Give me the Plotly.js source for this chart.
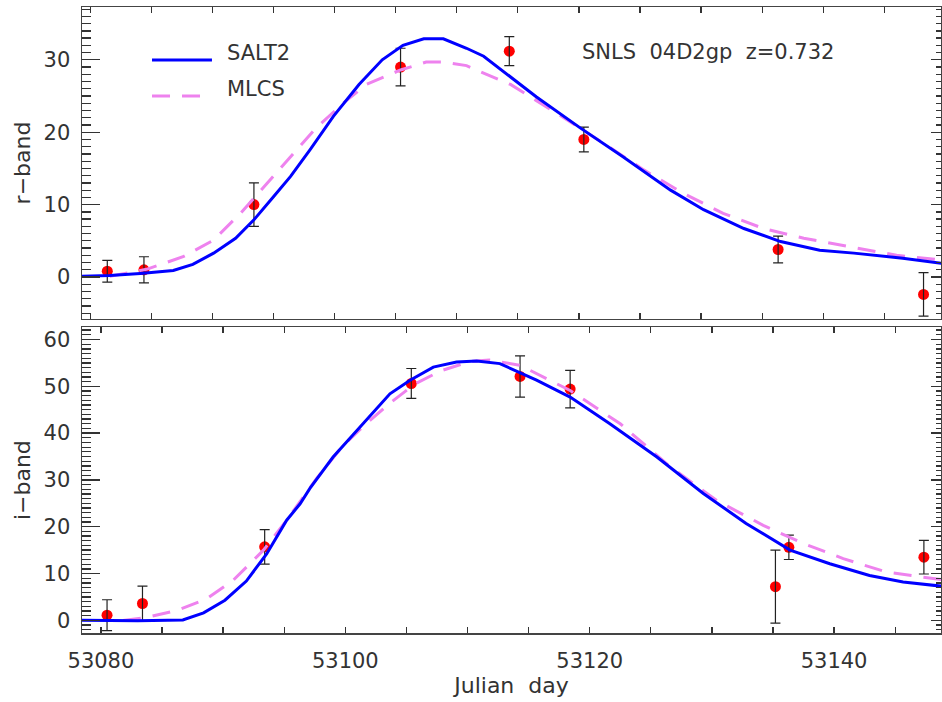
<!DOCTYPE html>
<html>
<head>
<meta charset="utf-8">
<script src="https://cdn.plot.ly/plotly-3.0.1.min.js"></script>
<style>html,body{margin:0;padding:0;background:#fff;}#chart{width:942px;height:702px;}</style>
</head>
<body>
<div id="chart"></div>
<script>
// ---- r-band data points ----
const rDay  = [53081.4, 53084.4, 53093.4, 53105.4, 53114.3, 53120.4, 53136.3, 53148.2];
const rFlux = [0.8, 1.0, 10.0, 29.0, 31.2, 19.0, 3.8, -2.4];
const rErr  = [1.5, 1.8, 3.0, 2.6, 2.0, 1.7, 1.85, 3.0];

// ---- i-band data points ----
const iDay  = [53080.5, 53083.4, 53093.4, 53105.4, 53114.3, 53118.4, 53135.2, 53136.3, 53147.35];
const iFlux = [1.1, 3.6, 15.7, 50.6, 52.1, 49.4, 7.2, 15.6, 13.5];
const iErr  = [3.3, 3.7, 3.7, 3.2, 4.4, 4.0, 7.8, 2.6, 3.6];

// ---- r-band model curves ----
const rSaltDay  = [53079.33, 53081.6, 53084.1, 53086.8, 53088.4, 53090.1, 53091.9, 53093.4, 53095.0, 53096.4, 53098.0, 53099.9, 53102.0, 53103.9, 53105.6, 53107.3, 53108.9, 53110.8, 53112.2, 53113.8, 53116.5, 53120.1, 53123.6, 53127.5, 53130.2, 53133.5, 53136.5, 53139.7, 53142.5, 53146.5, 53149.7];
const rSaltFlux = [0.1, 0.2, 0.5, 0.9, 1.75, 3.3, 5.35, 7.9, 11.1, 13.9, 17.6, 22.2, 26.6, 30.0, 32.0, 32.9, 32.9, 31.6, 30.5, 28.4, 24.9, 20.6, 16.6, 12.0, 9.3, 6.7, 4.9, 3.7, 3.3, 2.6, 1.9];
const rMlcsDay  = [53081.6, 53084.6, 53087.6, 53090.1, 53092.3, 53094.5, 53096.4, 53098.5, 53100.7, 53102.6, 53105.4, 53107.5, 53108.9, 53110.8, 53111.6, 53114.4, 53118.2, 53122.0, 53125.3, 53128.5, 53131.8, 53135.1, 53138.4, 53142.2, 53146.0, 53149.7];
const rMlcsFlux = [0.1, 1.06, 2.8, 5.1, 8.8, 13.0, 16.6, 20.6, 24.0, 26.6, 28.6, 29.7, 29.7, 29.2, 28.6, 26.6, 22.6, 18.5, 14.8, 11.6, 8.8, 6.7, 5.35, 4.2, 3.0, 2.35];

// ---- i-band model curves ----
const iSaltDay  = [53078.45, 53083.0, 53086.7, 53088.4, 53090.15, 53091.9, 53093.56, 53095.2, 53096.3, 53097.1, 53099.0, 53101.7, 53103.65, 53105.3, 53107.2, 53109.1, 53110.75, 53112.65, 53115.65, 53118.4, 53121.65, 53125.5, 53129.3, 53132.8, 53136.4, 53139.65, 53142.9, 53145.65, 53148.8];
const iSaltFlux = [0.0, -0.1, 0.1, 1.6, 4.3, 8.4, 14.2, 21.4, 24.9, 28.2, 34.9, 42.7, 48.4, 51.3, 54.1, 55.2, 55.4, 54.85, 51.3, 47.7, 42.0, 34.9, 27.1, 20.7, 15.0, 12.1, 9.6, 8.2, 7.3];
const iMlcsDay  = [53081.8, 53083.7, 53086.2, 53088.65, 53090.8, 53093.3, 53095.2, 53097.65, 53099.8, 53101.7, 53103.6, 53105.7, 53107.8, 53110.2, 53111.8, 53114.3, 53118.4, 53122.5, 53126.6, 53130.4, 53134.2, 53137.5, 53140.75, 53144.3, 53148.8];
const iMlcsFlux = [0.0, 0.6, 2.1, 4.6, 8.5, 15.0, 21.4, 30.3, 37.3, 42.0, 46.3, 50.5, 53.3, 55.3, 55.6, 54.5, 49.1, 42.0, 32.8, 25.6, 20.3, 16.4, 13.2, 10.3, 8.7];

// ---- labels ----
const seriesNames = ['SALT2', 'MLCS'];
const titleText = 'SNLS  04D2gp  z=0.732';
const xTitle = 'Julian  day';
const yTitles = ['r\u2212band', 'i\u2212band'];

const FONT = 'DejaVu Sans, sans-serif';
const TXT = '#333';
const TICKC = '#333';
const saltLine = {color: '#0000ff', width: 3};
const mlcsLine = {color: '#ee82ee', width: 3, dash: '18px,12px'};
const ptMarker = {color: '#ff0000', size: 11};
const errStyle = (arr) => ({type: 'data', array: arr, visible: true, color: '#222', thickness: 1.2, width: 5});

function bandTraces(xa, ya, yRight, day, flux, err, sDay, sFlux, mDay, mFlux) {
  return [
    {x: day, y: flux, xaxis: xa, yaxis: ya, mode: 'markers', marker: ptMarker, showlegend: false},
    {x: day, y: flux, xaxis: xa, yaxis: ya, mode: 'markers', marker: {size: 1, opacity: 0}, error_y: errStyle(err), showlegend: false},
    {x: mDay, y: mFlux, xaxis: xa, yaxis: ya, mode: 'lines', line: mlcsLine, name: seriesNames[1], showlegend: false},
    {x: sDay, y: sFlux, xaxis: xa, yaxis: ya, mode: 'lines', line: saltLine, name: seriesNames[0], showlegend: false},
    // invisible copy so the right-hand tick axis is drawn
    {x: day, y: flux, xaxis: xa, yaxis: yRight, mode: 'markers', marker: {size: 1, opacity: 0}, hoverinfo: 'skip', showlegend: false}
  ];
}

const traces = [].concat(
  bandTraces('x2', 'y', 'y3', rDay, rFlux, rErr, rSaltDay, rSaltFlux, rMlcsDay, rMlcsFlux),
  bandTraces('x', 'y2', 'y4', iDay, iFlux, iErr, iSaltDay, iSaltFlux, iMlcsDay, iMlcsFlux)
);

const xRangeBottom = [53078.45, 53148.75];
const xRangeTop = [53079.33, 53149.63];
const baseX = {
  tickmode: 'linear', tick0: 53080, dtick: 20, tickformat: 'd',
  ticks: 'inside', ticklen: 6, tickwidth: 1.3, tickcolor: TICKC,
  minor: {ticks: 'inside', dtick: 5, tick0: 53080, ticklen: 5, tickwidth: 1.3, tickcolor: TICKC, showgrid: false},
  showline: true, linecolor: '#444', linewidth: 1.5, mirror: 'allticks',
  showgrid: false, zeroline: false,
  tickfont: {family: FONT, size: 21, color: TXT}
};
const baseY = {
  tickmode: 'linear', dtick: 10, tick0: 0,
  ticks: 'inside', ticklen: 18, tickwidth: 1.3, tickcolor: TICKC,
  minor: {ticks: 'inside', dtick: 1, tick0: 0, ticklen: 9, tickwidth: 1.3, tickcolor: TICKC, showgrid: false},
  showline: true, linecolor: '#444', linewidth: 1.5, mirror: true,
  showgrid: false, zeroline: false, ticklabelstandoff: 6,
  tickfont: {family: FONT, size: 21, color: TXT}
};
const rightY = {
  tickmode: 'linear', dtick: 10, tick0: 0, side: 'right',
  ticks: 'inside', ticklen: 10, tickwidth: 1.3, tickcolor: TICKC,
  minor: {ticks: 'inside', dtick: 1, tick0: 0, ticklen: 5, tickwidth: 1.3, tickcolor: TICKC, showgrid: false},
  showline: false, showticklabels: false, showgrid: false, zeroline: false
};

const layout = {
  width: 942, height: 702,
  margin: {l: 82, r: 1, t: 7, b: 69},
  paper_bgcolor: '#fff', plot_bgcolor: '#fff',
  showlegend: false,
  xaxis: Object.assign({}, baseX, {anchor: 'y2', domain: [0, 1], range: xRangeBottom, ticklabelstandoff: 8,
    title: {text: xTitle, font: {family: FONT, size: 22, color: TXT}, standoff: 4}}),
  xaxis2: Object.assign({}, baseX, {anchor: 'y', domain: [0, 1], range: xRangeTop, showticklabels: false}),
  yaxis: Object.assign({}, baseY, {anchor: 'x2', domain: [0.5016, 1], range: [-5.8, 37.3],
    title: {text: yTitles[0], font: {family: FONT, size: 22, color: TXT}, standoff: 7}}),
  yaxis2: Object.assign({}, baseY, {anchor: 'x', domain: [0, 0.4883], range: [-2.7, 62.6],
    title: {text: yTitles[1], font: {family: FONT, size: 22, color: TXT}, standoff: 7}}),
  yaxis3: Object.assign({}, rightY, {overlaying: 'y', anchor: 'x2', range: [-5.8, 37.3]}),
  yaxis4: Object.assign({}, rightY, {overlaying: 'y2', anchor: 'x', range: [-2.7, 62.6]}),
  shapes: [
    {type: 'line', xref: 'paper', yref: 'paper', x0: 0.0815, x1: 0.1513, y0: 0.9153, y1: 0.9153, line: {color: saltLine.color, width: 3}},
    {type: 'line', xref: 'paper', yref: 'paper', x0: 0.0815, x1: 0.1513, y0: 0.8578, y1: 0.8578, line: {color: mlcsLine.color, width: 3, dash: '18px,12px'}}
  ],
  annotations: [
    {text: seriesNames[0], xref: 'paper', yref: 'paper', x: 0.1665, y: 0.927, xanchor: 'left', yanchor: 'middle', showarrow: false, font: {family: FONT, size: 21, color: TXT}},
    {text: seriesNames[1], xref: 'paper', yref: 'paper', x: 0.1665, y: 0.8685, xanchor: 'left', yanchor: 'middle', showarrow: false, font: {family: FONT, size: 21, color: TXT}},
    {text: titleText, xref: 'paper', yref: 'paper', x: 0.5797, y: 0.928, xanchor: 'left', yanchor: 'middle', showarrow: false, font: {family: FONT, size: 21, color: TXT}}
  ]
};

Plotly.newPlot('chart', traces, layout, {staticPlot: true, displayModeBar: false});
</script>
</body>
</html>
